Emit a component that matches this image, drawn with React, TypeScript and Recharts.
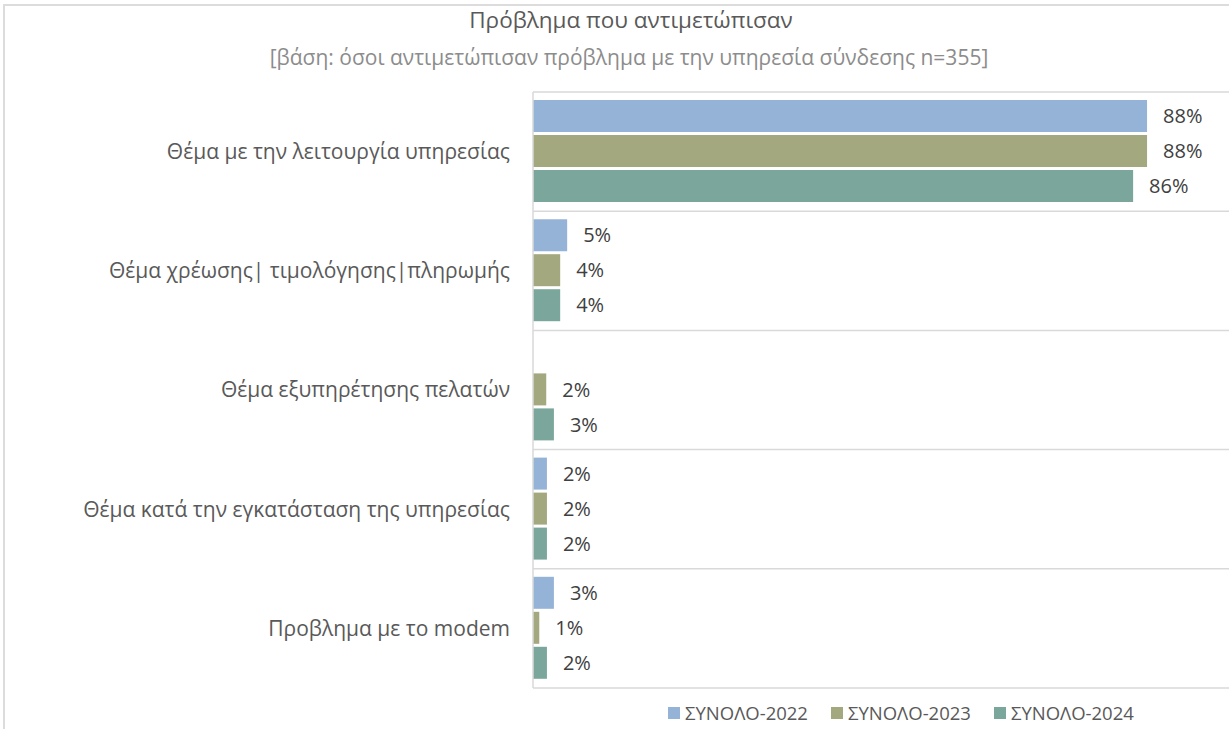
import React from 'react';
import { BarChart, Bar, XAxis, YAxis, CartesianGrid, LabelList, Legend } from 'recharts';

const categories = [
  'Θέμα με την λειτουργία υπηρεσίας',
  'Θέμα χρέωσης| τιμολόγησης|πληρωμής',
  'Θέμα εξυπηρέτησης πελατών',
  'Θέμα κατά την εγκατάσταση της υπηρεσίας',
  'Προβλημα με το modem',
];
const series2022 = [88.1, 4.9, 0, 2.0, 3.0];
const series2023 = [88.1, 3.9, 1.9, 2.0, 0.9];
const series2024 = [86.1, 3.9, 3.0, 2.0, 2.0];
const seriesNames = ['ΣΥΝΟΛΟ-2022', 'ΣΥΝΟΛΟ-2023', 'ΣΥΝΟΛΟ-2024'];
const seriesKeys = ['s2022', 's2023', 's2024'];
const colors = ['#95B3D7', '#A3A87E', '#7AA69B'];

const data = categories.map((name, i) => ({
  name,
  s2022: series2022[i],
  s2023: series2023[i],
  s2024: series2024[i],
}));

const FONT = '"Open Sans", sans-serif';

const fmt = (v: any) => (v === 0 || v == null ? '' : `${Math.round(Number(v))}%`);

const LegendContent = () => (
  <div style={{ display: 'flex', fontFamily: FONT, fontSize: 18.5, color: '#595959', whiteSpace: 'nowrap' }}>
    {seriesNames.map((n, i) => (
      <div key={n} style={{ display: 'flex', alignItems: 'center', marginRight: 23 }}>
        <div style={{ width: 12, height: 12, background: colors[i], marginRight: 5 }} />
        <span>{n}</span>
      </div>
    ))}
  </div>
);

export default function App() {
  return (
    <div style={{ position: 'absolute', left: 0, top: 0, width: 1229, height: 729, overflow: 'hidden', background: '#fff' }}>
      <div style={{ position: 'absolute', left: 3, top: 4, width: 1400, height: 900, border: '2px solid #dcdcdc', boxSizing: 'border-box' }} />
      <div style={{ position: 'absolute', left: 0, width: 1262, top: 4, textAlign: 'center', fontFamily: FONT, fontSize: 22.5, color: '#595959' }}>
        Πρόβλημα που αντιμετώπισαν
      </div>
      <div style={{ position: 'absolute', left: 0, width: 1258, top: 43, textAlign: 'center', fontFamily: FONT, fontSize: 21, color: '#8c8c8c' }}>
        [βάση: όσοι αντιμετώπισαν πρόβλημα με την υπηρεσία σύνδεσης n=355]
      </div>
      <div style={{ position: 'absolute', left: 0, top: 0 }}>
        <BarChart
          width={1240}
          height={729}
          layout="vertical"
          data={data}
          margin={{ top: 92, right: 10, bottom: 41, left: 0 }}
          barCategoryGap={8}
          barGap={3}
        >
          <CartesianGrid
            vertical={false}
            stroke="#d9d9d9"
            strokeWidth={1.5}
            horizontalCoordinatesGenerator={({ offset }: any) =>
              categories.map((_, i) => offset.top + (i * offset.height) / categories.length).concat([offset.top + offset.height])
            }
          />
          <XAxis type="number" domain={[0, 100]} hide />
          <YAxis
            type="category"
            dataKey="name"
            width={533}
            tickLine={false}
            tickSize={0}
            tickMargin={23}
            axisLine={{ stroke: '#d9d9d9', strokeWidth: 1.5 }}
            tick={{ fill: '#595959', fontSize: 21, fontFamily: FONT }}
            interval={0}
          />
          <Legend
            layout="horizontal"
            verticalAlign="middle"
            align="center"
            content={<LegendContent />}
            wrapperStyle={{ position: 'absolute', top: 700, left: 668, width: 'auto' }}
          />
          {seriesKeys.map((k, i) => (
            <Bar key={k} dataKey={k} name={seriesNames[i]} fill={colors[i]} isAnimationActive={false}>
              <LabelList
                dataKey={k}
                position="right"
                offset={16}
                formatter={fmt}
                style={{ fill: '#404040', fontSize: 20, fontFamily: FONT }}
              />
            </Bar>
          ))}
        </BarChart>
      </div>
    </div>
  );
}
